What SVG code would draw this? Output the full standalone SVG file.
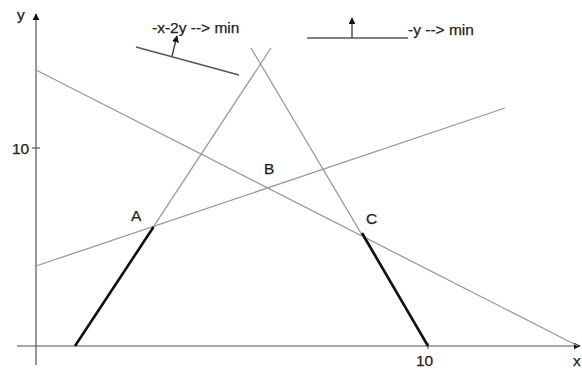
<svg xmlns="http://www.w3.org/2000/svg" width="582" height="369" viewBox="0 0 582 369">
<defs>
<marker id="ah" viewBox="0 0 10 10" refX="9" refY="5" markerWidth="7" markerHeight="7" markerUnits="userSpaceOnUse" orient="auto">
<path d="M0,0 L10,5 L0,10 z" fill="#111"/>
</marker>
</defs>
<style>
.ax{stroke:#555;stroke-width:1.2;fill:none}
.ln{stroke:#9a9a9a;stroke-width:1.3;fill:none}
.bd{stroke:#111;stroke-width:2.6;fill:none}
.ob{stroke:#555;stroke-width:1.3;fill:none}
.ar{stroke:#333;stroke-width:1.3;fill:none}
text{font-family:"Liberation Sans",Arial,sans-serif;font-size:15.5px;fill:#222;stroke:#222;stroke-width:0.25}
</style>
<rect width="582" height="369" fill="#fff"/>
<g id="axes">
<line class="ax" x1="36" y1="365" x2="36" y2="14" marker-end="url(#ah)"/>
<line class="ax" x1="17" y1="346" x2="580" y2="346" marker-end="url(#ah)"/>
<line class="ax" x1="32" y1="148" x2="40" y2="148"/>
<line class="ax" x1="428" y1="343" x2="428" y2="349"/>
<text x="17" y="20">y</text>
<text x="12" y="154">10</text>
<text x="416" y="366">10</text>
<text x="573" y="366">x</text>
</g>
<g id="connectors">
<line class="ln" x1="36" y1="70" x2="578" y2="346"/>
<line class="ln" x1="36" y1="266" x2="505" y2="108"/>
<line class="ln" x1="75" y1="346" x2="271" y2="48"/>
<line class="ln" x1="428" y1="346" x2="251" y2="48"/>
<line class="bd" x1="75" y1="346" x2="153.5" y2="227"/>
<line class="bd" x1="362" y1="233" x2="428" y2="346"/>
</g>
<g id="objective1">
<line class="ob" x1="136" y1="47" x2="239" y2="75"/>
<line class="ar" x1="172" y1="56" x2="177" y2="36" marker-end="url(#ah)"/>
<text x="152" y="33">-x-2y --&gt; min</text>
</g>
<g id="objective2">
<line class="ob" x1="307" y1="38" x2="408" y2="38"/>
<line class="ar" x1="352" y1="38" x2="352" y2="18" marker-end="url(#ah)"/>
<text x="408" y="35">-y --&gt; min</text>
</g>
<g id="labelA"><text x="131" y="221">A</text></g>
<g id="labelB"><text x="264" y="174">B</text></g>
<g id="labelC"><text x="366" y="224">C</text></g>
</svg>
